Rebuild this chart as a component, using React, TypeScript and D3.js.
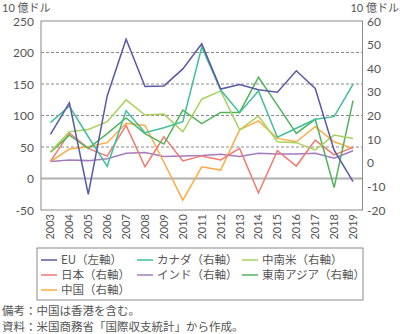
import React from "react";
import * as d3 from "d3";

const years = ["2003","2004","2005","2006","2007","2008","2009","2010","2011","2012","2013","2014","2015","2016","2017","2018","2019"];
const leftTicks = [-50, 0, 50, 100, 150, 200, 250];
const rightTicks = [-20, -10, 0, 10, 20, 30, 40, 50, 60];
const gridValues = [50, 100, 150, 200];

const euLeft = [70, 120, -25, 131, 221, 146, 147, 174, 214, 142, 149, 141, 137, 171, 143, 45, -5];
const canada = [17, 24, 11, -1.5, 22, 12.7, 14.8, 17.4, 49, 30.8, 21.2, 30.4, 10.8, 14.6, 18.4, 19.5, 33.3];
const latam = [4.7, 13.1, 14.1, 17.4, 26.6, 20.2, 20.6, 13.1, 26.9, 30.4, 13.9, 19.8, 8.9, 8.5, 5.4, 11.7, 10.3];
const japan = [0.6, 12.6, 6.1, 2.8, 15.8, -1.7, 11, 0.8, 2.9, 1.2, 6.1, -12.8, 5.1, -1.4, 9.6, 3.3, 6.5];
const india = [0.5, 1.2, 0.9, 1.7, 4, 4.3, 2.6, 2.9, 3.1, 3.6, 2.6, 4, 3.7, 3.7, 4, 1.9, 5.1];
const seAsia = [4.5, 11.7, 6.1, 12.3, 19, 12.3, 7.9, 22.3, 16.6, 21.3, 21.3, 36.2, 24.4, 12.4, 18.4, -10.5, 26.3];
const china = [0.5, 5.8, 6.8, 8.5, 16.7, 15.8, 0.2, -15.8, -1.7, -3.1, 13.9, 17.7, 10.3, 8.9, 15.3, 8.9, 6.1];

const seriesNames = ["EU（左軸）", "カナダ（右軸）", "中南米（右軸）", "日本（右軸）", "インド（右軸）", "東南アジア（右軸）", "中国（右軸）"];
const seriesColors = ["#5a59a6", "#3fbf9c", "#a9d25c", "#f2796f", "#a47bbd", "#50b45a", "#ffab45"];

const FONT = "'Noto Sans CJK JP', 'Noto Sans', sans-serif";
const NUMFONT = "Lato, 'Noto Sans CJK JP', sans-serif";

export default function App() {
  const W = 400, H = 334;
  const left = 41, right = 362.5, top = 21, bottom = 210;
  const x = d3.scalePoint<string>().domain(years).range([left, right]).padding(0.5);
  const yL = d3.scaleLinear().domain([-50, 250]).range([bottom, top]);
  const yR = d3.scaleLinear().domain([-20, 60]).range([bottom, top]);

  const lineL = d3.line<number>().x((_, i) => x(years[i])!).y((d) => yL(d));
  const lineR = d3.line<number>().x((_, i) => x(years[i])!).y((d) => yR(d));

  const series: { vals: number[]; axis: "L" | "R" }[] = [
    { vals: euLeft, axis: "L" },
    { vals: canada, axis: "R" },
    { vals: latam, axis: "R" },
    { vals: japan, axis: "R" },
    { vals: india, axis: "R" },
    { vals: seAsia, axis: "R" },
    { vals: china, axis: "R" },
  ];
  const drawOrder = [4, 6, 3, 5, 2, 1, 0];

  const legendCols = [41, 137, 242];
  const legendRows = [260, 275, 290];
  const textColor = "#555";

  return (
    <svg width={W} height={H} style={{ position: "absolute", left: 0, top: 0 }} fontFamily={FONT}>
      <rect x={0} y={0} width={W} height={H} fill="#fff" />
      <text x={2} y={11.5} fontSize={11} fill={textColor} fontFamily={NUMFONT}>10 億ドル</text>
      <text x={399} y={11.5} fontSize={11} fill={textColor} textAnchor="end" fontFamily={NUMFONT}>10 億ドル</text>

      {gridValues.map((v) => (
        <line key={v} x1={left} x2={right} y1={yL(v)} y2={yL(v)} stroke="#8a8a8a" strokeDasharray="3,2" strokeWidth={1} />
      ))}
      <line x1={left} x2={right} y1={yL(0)} y2={yL(0)} stroke="#b0b0b0" strokeWidth={2} />

      <rect x={left} y={top} width={right - left} height={bottom - top} fill="none" stroke="#8a8a8a" strokeWidth={1} />

      {leftTicks.map((v) => (
        <text key={v} x={34} y={yL(v) + 4.5} fontSize={12} fill={textColor} textAnchor="end" fontFamily={NUMFONT}>{v}</text>
      ))}
      {rightTicks.map((v) => (
        <text key={v} x={367} y={yR(v) + 4.5} fontSize={12} fill={textColor} fontFamily={NUMFONT}>{v}</text>
      ))}
      {years.map((yr) => (
        <text key={yr} transform={`translate(${x(yr)! + 4},${214}) rotate(-90)`} fontSize={11} fill={textColor} textAnchor="end" fontFamily={NUMFONT}>{yr}</text>
      ))}

      {drawOrder.map((i) => {
        const s = series[i];
        const d = s.axis === "L" ? lineL(s.vals) : lineR(s.vals);
        return <path key={i} d={d || ""} fill="none" stroke={seriesColors[i]} strokeWidth={1.5} strokeLinejoin="miter" />;
      })}

      <rect x={37} y={248} width={326} height={52} fill="#fff" stroke="#8a8a8a" strokeWidth={1} />
      {seriesNames.map((name, i) => {
        const cx = legendCols[i % 3];
        const cy = legendRows[Math.floor(i / 3)];
        return (
          <g key={name}>
            <line x1={cx} x2={cx + 16} y1={cy} y2={cy} stroke={seriesColors[i]} strokeWidth={1.5} />
            <text x={cx + 20} y={cy + 4} fontSize={11.5} fill={textColor}>{name}</text>
          </g>
        );
      })}

      <text x={2} y={315} fontSize={11.5} fill={textColor}>備考：中国は香港を含む。</text>
      <text x={2} y={331} fontSize={11.5} fill={textColor}>資料：米国商務省「国際収支統計」から作成。</text>
    </svg>
  );
}
